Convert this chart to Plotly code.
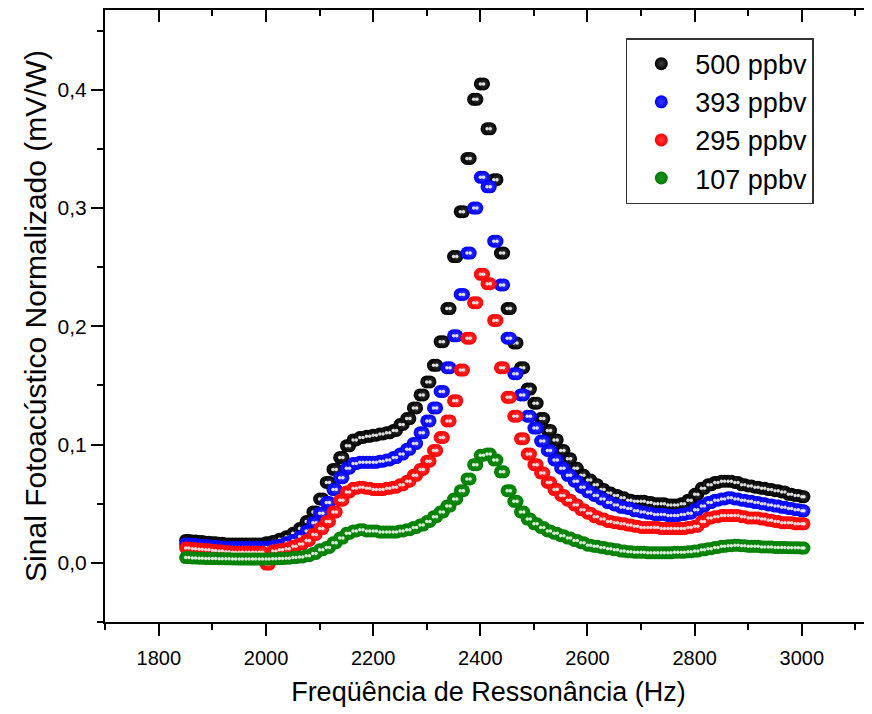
import plotly.graph_objects as go

# first reading of each frequency step
freq = [1850.0, 1862.5, 1875.0, 1887.5, 1900.0, 1912.5, 1925.0, 1937.5,
        1950.0, 1962.5, 1975.0, 1987.5, 2000.0, 2012.5, 2025.0, 2037.5,
        2050.0, 2062.5, 2075.0, 2087.5, 2100.0, 2112.5, 2125.0, 2137.5,
        2150.0, 2162.5, 2175.0, 2187.5, 2200.0, 2212.5, 2225.0, 2237.5,
        2250.0, 2262.5, 2275.0, 2287.5, 2300.0, 2312.5, 2325.0, 2337.5,
        2350.0, 2362.5, 2375.0, 2387.5, 2400.0, 2412.5, 2425.0, 2437.5,
        2450.0, 2462.5, 2475.0, 2487.5, 2500.0, 2512.5, 2525.0, 2537.5,
        2550.0, 2562.5, 2575.0, 2587.5, 2600.0, 2612.5, 2625.0, 2637.5,
        2650.0, 2662.5, 2675.0, 2687.5, 2700.0, 2712.5, 2725.0, 2737.5,
        2750.0, 2762.5, 2775.0, 2787.5, 2800.0, 2812.5, 2825.0, 2837.5,
        2850.0, 2862.5, 2875.0, 2887.5, 2900.0, 2912.5, 2925.0, 2937.5,
        2950.0, 2962.5, 2975.0, 2987.5, 3000.0]

# repeated reading, taken slightly above each step (pairs visible in the picture)
freq_b = [1856.0, 1868.5, 1881.0, 1893.5, 1906.0, 1918.5, 1931.0, 1943.5,
          1956.0, 1968.5, 1981.0, 1993.5, 2006.0, 2018.5, 2031.0, 2043.5,
          2056.0, 2068.5, 2081.0, 2093.5, 2106.0, 2118.5, 2131.0, 2143.5,
          2156.0, 2168.5, 2181.0, 2193.5, 2206.0, 2218.5, 2231.0, 2243.5,
          2256.0, 2268.5, 2281.0, 2293.5, 2306.0, 2318.5, 2331.0, 2343.5,
          2356.0, 2368.5, 2381.0, 2393.5, 2406.0, 2418.5, 2431.0, 2443.5,
          2456.0, 2468.5, 2481.0, 2493.5, 2506.0, 2518.5, 2531.0, 2543.5,
          2556.0, 2568.5, 2581.0, 2593.5, 2606.0, 2618.5, 2631.0, 2643.5,
          2656.0, 2668.5, 2681.0, 2693.5, 2706.0, 2718.5, 2731.0, 2743.5,
          2756.0, 2768.5, 2781.0, 2793.5, 2806.0, 2818.5, 2831.0, 2843.5,
          2856.0, 2868.5, 2881.0, 2893.5, 2906.0, 2918.5, 2931.0, 2943.5,
          2956.0, 2968.5, 2981.0, 2993.5, 3004.0]

s500 = [0.019, 0.0185, 0.018, 0.0175, 0.017, 0.0165, 0.016, 0.016,
        0.016, 0.016, 0.016, 0.016, 0.017, 0.018, 0.020, 0.022,
        0.025, 0.029, 0.035, 0.043, 0.054, 0.068, 0.079, 0.089,
        0.099, 0.104, 0.106, 0.107, 0.108, 0.109, 0.110, 0.112,
        0.117, 0.122, 0.131, 0.142, 0.153, 0.167, 0.187, 0.215,
        0.259, 0.297, 0.342, 0.392, 0.405, 0.367, 0.324, 0.262,
        0.215, 0.186, 0.165, 0.147, 0.135, 0.122, 0.112, 0.104,
        0.095, 0.088, 0.080, 0.074, 0.070, 0.066, 0.062, 0.059,
        0.057, 0.055, 0.053, 0.052, 0.052, 0.051, 0.050, 0.050,
        0.049, 0.049, 0.050, 0.053, 0.058, 0.063, 0.066, 0.068,
        0.069, 0.069, 0.068, 0.066, 0.065, 0.064, 0.063, 0.062,
        0.061, 0.060, 0.058, 0.057, 0.056]

s393 = [0.016, 0.0155, 0.015, 0.0145, 0.014, 0.0135, 0.013, 0.013,
        0.013, 0.013, 0.013, 0.013, 0.013, 0.014, 0.015, 0.017,
        0.019, 0.022, 0.027, 0.034, 0.042, 0.051, 0.062, 0.072,
        0.080, 0.084, 0.085, 0.085, 0.085, 0.086, 0.087, 0.089,
        0.092, 0.096, 0.101, 0.110, 0.120, 0.131, 0.145, 0.165,
        0.192, 0.227, 0.262, 0.300, 0.326, 0.318, 0.272, 0.235,
        0.190, 0.160, 0.142, 0.124, 0.114, 0.103, 0.095, 0.087,
        0.080, 0.074, 0.069, 0.064, 0.060, 0.057, 0.054, 0.051,
        0.049, 0.047, 0.046, 0.044, 0.043, 0.042, 0.041, 0.041,
        0.040, 0.040, 0.041, 0.042, 0.045, 0.048, 0.051, 0.053,
        0.054, 0.055, 0.054, 0.053, 0.052, 0.051, 0.050, 0.049,
        0.048, 0.047, 0.046, 0.045, 0.044]

s295 = [0.0125, 0.012, 0.0115, 0.011, 0.0105, 0.010, 0.0095, 0.009,
        0.009, 0.009, 0.009, 0.009, -0.001, 0.010, 0.011, 0.012,
        0.014, 0.016, 0.019, 0.024, 0.029, 0.035, 0.043, 0.053,
        0.060, 0.063, 0.064, 0.063, 0.062, 0.062, 0.063, 0.064,
        0.066, 0.069, 0.074, 0.079, 0.086, 0.095, 0.106, 0.120,
        0.137, 0.163, 0.190, 0.220, 0.244, 0.236, 0.205, 0.165,
        0.140, 0.124, 0.105, 0.092, 0.083, 0.076, 0.068, 0.062,
        0.057, 0.053, 0.049, 0.045, 0.042, 0.039, 0.037, 0.035,
        0.034, 0.033, 0.032, 0.031, 0.030, 0.030, 0.030, 0.029,
        0.029, 0.029, 0.029, 0.030, 0.031, 0.035, 0.038, 0.039,
        0.040, 0.040, 0.040, 0.039, 0.038, 0.038, 0.037, 0.036,
        0.035, 0.034, 0.034, 0.033, 0.033]

s107 = [0.0045, 0.0042, 0.004, 0.0038, 0.0036, 0.0035, 0.0034, 0.0033,
        0.0032, 0.0032, 0.0032, 0.0032, 0.0033, 0.0034, 0.0036, 0.004,
        0.0045, 0.005, 0.006, 0.008, 0.011, 0.013, 0.017, 0.021,
        0.025, 0.027, 0.028, 0.027, 0.027, 0.026, 0.026, 0.026,
        0.027, 0.028, 0.030, 0.032, 0.035, 0.039, 0.043, 0.048,
        0.054, 0.061, 0.071, 0.083, 0.091, 0.092, 0.087, 0.077,
        0.061, 0.052, 0.043, 0.037, 0.033, 0.030, 0.027, 0.025,
        0.023, 0.021, 0.019, 0.017, 0.015, 0.014, 0.013, 0.012,
        0.011, 0.010, 0.0095, 0.009, 0.009, 0.0085, 0.0085, 0.0085,
        0.0085, 0.009, 0.009, 0.0095, 0.010, 0.011, 0.012, 0.013,
        0.014, 0.0145, 0.015, 0.0145, 0.014, 0.014, 0.0135, 0.0135,
        0.013, 0.013, 0.0128, 0.0127, 0.0125]

series_names = ["500 ppbv", "393 ppbv", "295 ppbv", "107 ppbv"]
series_values = [s500, s393, s295, s107]
series_colors = ["#000000", "#0000FF", "#FF0000", "#008000"]
series_glow = ["#3c3c3c", "#3a3aff", "#ff3a3a", "#1f8f1f"]

x_ticks = [1800, 2000, 2200, 2400, 2600, 2800, 3000]
y_ticks = [0.0, 0.1, 0.2, 0.3, 0.4]

FONT = "Liberation Sans, Arial, sans-serif"

fig = go.Figure()
n_series = len(series_names)
for k, (name, vals, col, glow) in enumerate(zip(series_names, series_values, series_colors, series_glow)):
    xs = []
    ys = []
    for fa, fb, v in zip(freq, freq_b, vals):
        xs += [fa, fb]
        ys += [v, v]
    fig.add_trace(go.Scatter(
        x=xs, y=ys, mode="markers", name=name,
        marker=dict(size=13, color=col, line=dict(width=0),
                    gradient=dict(type="radial", color=glow)),
    ))
    last = (k == n_series - 1)
    fig.add_trace(go.Scatter(
        x=xs, y=ys, mode="markers", showlegend=False, hoverinfo="skip",
        xaxis="x2" if last else "x",
        marker=dict(size=3.5, color="rgba(255,255,255,0.85)", line=dict(width=0)),
    ))

xr = [1699.5, 3131]
yr = [-0.05, 0.4675]

fig.update_layout(
    width=864, height=706,
    margin=dict(l=97, r=0, t=2, b=92),
    paper_bgcolor="white", plot_bgcolor="white",
    separators=",.",
    font=dict(family=FONT, color="black", size=20),
    showlegend=True,
    legend=dict(
        x=0.679, y=0.954, xanchor="left", yanchor="top",
        bgcolor="white", bordercolor="#333333", borderwidth=1.5,
        font=dict(family=FONT, size=27, color="black"),
        itemsizing="trace", itemwidth=58, tracegroupgap=0,
    ),
    xaxis=dict(
        range=xr, showgrid=False, zeroline=False,
        showline=True, linecolor="black", linewidth=2,
        ticks="outside", ticklen=12, tickwidth=2, tickcolor="black",
        tickvals=x_ticks, ticktext=[str(v) for v in x_ticks],
        tickfont=dict(size=20, family=FONT), ticklabelstandoff=5,
        minor=dict(dtick=100, tick0=0, ticks="outside", ticklen=6, tickwidth=2, tickcolor="black"),
        title=dict(text="Freqüência de Ressonância (Hz)", font=dict(size=27, family=FONT), standoff=14),
    ),
    xaxis2=dict(
        range=xr, overlaying="x", side="top", showgrid=False, zeroline=False,
        showline=True, linecolor="black", linewidth=2,
        ticks="inside", ticklen=12, tickwidth=2, tickcolor="black",
        tickvals=x_ticks, showticklabels=False,
        minor=dict(dtick=100, tick0=0, ticks="inside", ticklen=6, tickwidth=2, tickcolor="black"),
    ),
    yaxis=dict(
        range=yr, showgrid=False, zeroline=False,
        showline=True, linecolor="black", linewidth=2,
        ticks="outside", ticklen=12, tickwidth=2, tickcolor="black",
        tickvals=y_ticks, tickformat=".1f",
        tickfont=dict(size=21, family=FONT),
        minor=dict(dtick=0.05, tick0=0, ticks="outside", ticklen=6, tickwidth=2, tickcolor="black"),
        title=dict(text="Sinal Fotoacústico Normalizado (mV/W)", font=dict(size=30, family=FONT), standoff=2),
    ),
)

fig.write_html("out.html")
